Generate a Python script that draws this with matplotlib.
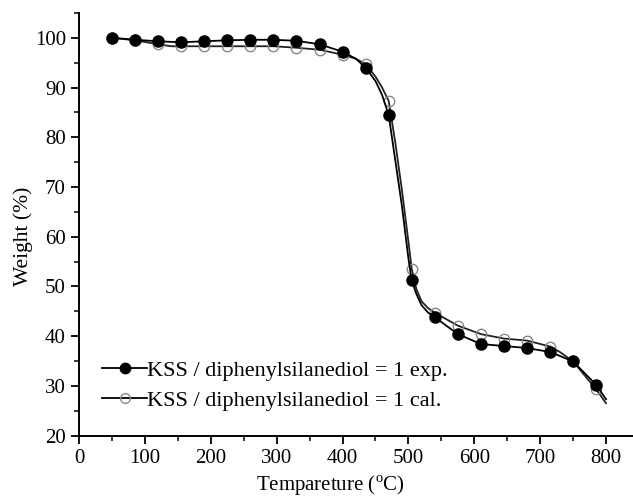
import matplotlib
matplotlib.use("Agg")
import matplotlib.pyplot as plt
from matplotlib.ticker import MultipleLocator

plt.rcParams['font.family'] = ['Liberation Serif', 'DejaVu Serif']
plt.rcParams['mathtext.fontset'] = 'custom'
plt.rcParams['mathtext.rm'] = 'Liberation Serif'

# marker data (every 35 °C)
marker_x = [50, 85, 120, 155, 190, 225, 260, 295, 330, 365, 400, 435, 470,
            505, 540, 575, 610, 645, 680, 715, 750, 785]
exp_y = [100.0, 99.6, 99.3, 99.1, 99.3, 99.5, 99.6, 99.6, 99.4, 98.7, 97.2, 94.0, 84.5,
         51.2, 43.8, 40.4, 38.4, 38.0, 37.6, 36.8, 34.9, 30.2]
cal_y = [100.0, 99.5, 98.7, 98.3, 98.3, 98.3, 98.3, 98.3, 98.0, 97.6, 96.6, 94.7, 87.3,
         53.5, 44.7, 42.1, 40.4, 39.5, 39.1, 37.9, 34.9, 29.3]

# continuous curves
exp_line_x = [50, 85, 120, 155, 190, 225, 260, 295, 330, 365, 400, 420, 435, 450, 460,
              470, 480, 490, 500, 505, 512, 520, 530, 540, 575, 610, 645, 680, 715,
              730, 750, 785, 800]
exp_line_y = [100.0, 99.6, 99.3, 99.1, 99.3, 99.5, 99.6, 99.6, 99.4, 98.7, 97.2, 95.8,
              94.0, 91.3, 88.5, 84.5, 75.4, 66.3, 55.6, 51.2, 48.5, 46.2, 44.7, 43.8,
              40.4, 38.4, 38.0, 37.6, 36.8, 36.0, 34.9, 30.2, 27.3]
cal_line_x = [50, 85, 120, 140, 155, 190, 225, 260, 295, 330, 365, 400, 420, 435, 450,
              460, 470, 480, 490, 500, 505, 512, 520, 530, 540, 575, 610, 645, 680,
              715, 730, 750, 785, 800]
cal_line_y = [100.0, 99.5, 98.7, 98.3, 98.3, 98.3, 98.3, 98.3, 98.3, 98.0, 97.6, 96.6,
              95.8, 94.7, 92.2, 90.0, 87.3, 79.0, 69.5, 59.0, 53.5, 49.5, 47.0, 45.6,
              44.7, 42.1, 40.4, 39.5, 39.1, 37.9, 36.8, 34.9, 29.3, 26.5]

labels = ['KSS / diphenylsilanediol = 1 exp.', 'KSS / diphenylsilanediol = 1 cal.']

fig = plt.figure(figsize=(6.33, 4.98), dpi=100)
ax = fig.add_axes([0.125, 0.1255, 0.875, 0.8485])

ax.plot(cal_line_x, cal_line_y, color='#222222', lw=1.3, zorder=2)
ax.plot(marker_x, cal_y, ls='none', marker='o', ms=7.5, mfc='none', mec='#888888',
        mew=1.0, zorder=3)
ax.plot(exp_line_x, exp_line_y, color='black', lw=1.3, zorder=4)
ax.plot(marker_x, exp_y, ls='none', marker='o', ms=8, mfc='black', mec='black',
        zorder=5)

# legend proxies
h1, = ax.plot([], [], color='black', lw=1.3, marker='o', ms=7.5, mfc='black', mec='black')
h2, = ax.plot([], [], color='black', lw=1.3, marker='o', ms=7, mfc='none', mec='#888888')
ax.legend([h1, h2], labels, loc='center left', bbox_to_anchor=(0.042, 0.118),
          frameon=False, fontsize=16, handlelength=2.0, handletextpad=0.0,
          labelspacing=0.42, borderpad=0, borderaxespad=0)

ax.set_xlim(0, 841)
ax.set_ylim(20, 105)
ax.xaxis.set_major_locator(MultipleLocator(100))
ax.xaxis.set_minor_locator(MultipleLocator(50))
ax.yaxis.set_major_locator(MultipleLocator(10))
ax.yaxis.set_minor_locator(MultipleLocator(5))
ax.set_xticks(range(0, 801, 100))
ax.tick_params(which='major', direction='out', length=6, width=1.3, labelsize=15)
ax.tick_params(which='minor', direction='out', length=3.5, width=1.1)
for s in ['top', 'right']:
    ax.spines[s].set_visible(False)
for s in ['left', 'bottom']:
    ax.spines[s].set_linewidth(1.4)

ax.set_xlabel(r'Tempareture ($^{\rm o}$C)', fontsize=15)
ax.set_ylabel('Weight (%)', fontsize=15.5)
ax.xaxis.set_label_coords(0.453, -0.09)
ax.yaxis.set_label_coords(-0.083, 0.472)

fig.savefig('out.png', dpi=100)
